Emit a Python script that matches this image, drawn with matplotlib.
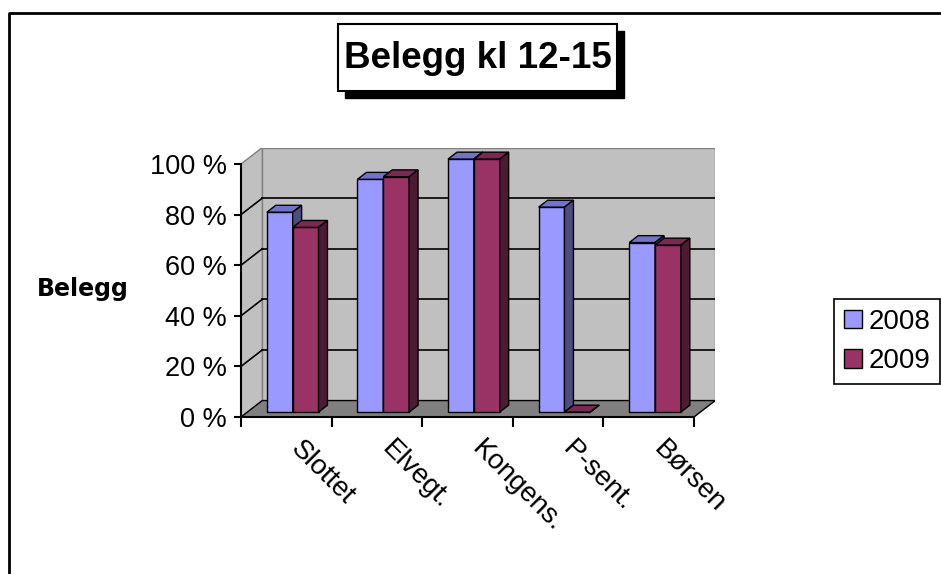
import matplotlib
matplotlib.use("Agg")
import matplotlib.pyplot as plt
from matplotlib.patches import Polygon, Rectangle, Patch
from matplotlib.lines import Line2D
import numpy as np

plt.rcParams['font.family'] = ['Liberation Sans', 'DejaVu Sans']

categories = ['Slottet', 'Elvegt.', 'Kongens.', 'P-sent.', 'Børsen']
years = ['2008', '2009']
belegg_2008 = [79, 92, 100, 81, 67]
belegg_2009 = [73, 93, 100, 0, 66]
y_ticks = [0, 20, 40, 60, 80, 100]

W, H = 941, 574
fig = plt.figure(figsize=(W / 100, H / 100), dpi=100)


def px(x, y):
    # pixel position (from top-left) -> figure fraction
    return x / W, 1 - y / H


# depth of the 3d box in data units and where the bars sit inside it
ddx, ddy = 0.235, 6.5
f0, f1 = 0.30, 0.72
xs_unit, ys_unit = 90.6, 2.53   # px per category / px per percent
x0, y0 = px(241, 417)
ax = fig.add_axes([x0, y0, (5 + ddx) * xs_unit / W, (100 + ddy) * ys_unit / H])
ax.set_xlim(0, 5 + ddx)
ax.set_ylim(0, 100 + ddy)
ax.patch.set_visible(False)

ncat = len(categories)

# walls and floor
wall_c, floor_c, edge_c = '#c0c0c0', '#808080', '#808080'
ax.add_patch(Rectangle((ddx, ddy), ncat, 100, fc=wall_c, ec=edge_c, lw=1, zorder=0.5))
ax.add_patch(Polygon([(0, 0), (ddx, ddy), (ddx, 100 + ddy), (0, 100)],
                     closed=True, fc=wall_c, ec=edge_c, lw=1, zorder=0.5))
ax.add_patch(Polygon([(0, 0), (ncat, 0), (ncat + ddx, ddy), (ddx, ddy)],
                     closed=True, fc=floor_c, ec='black', lw=1, zorder=0.6))

for v in y_ticks[1:-1]:
    ax.add_line(Line2D([ddx, ncat + ddx], [v + ddy, v + ddy], color='black', lw=1.2, zorder=1))
    ax.add_line(Line2D([0, ddx], [v, v + ddy], color='black', lw=1.2, zorder=1))


def bar3d(xl, xr, h, front, top, side, z):
    ox0, oy0 = f0 * ddx, f0 * ddy
    ox1, oy1 = f1 * ddx, f1 * ddy
    kw = dict(closed=True, ec='black', lw=1, joinstyle='miter', zorder=z)
    ax.add_patch(Polygon([(xl + ox0, oy0), (xr + ox0, oy0), (xr + ox0, h + oy0), (xl + ox0, h + oy0)],
                         fc=front, **kw))
    ax.add_patch(Polygon([(xl + ox0, h + oy0), (xr + ox0, h + oy0), (xr + ox1, h + oy1), (xl + ox1, h + oy1)],
                         fc=top, **kw))
    ax.add_patch(Polygon([(xr + ox0, oy0), (xr + ox1, oy1), (xr + ox1, h + oy1), (xr + ox0, h + oy0)],
                         fc=side, **kw))


colors_08 = ('#9999ff', '#7373cc', '#4d4d80')
colors_09 = ('#993366', '#7a2952', '#4d1a33')
bw = 0.285
z = 2
for i in range(ncat):
    bar3d(i + 0.215, i + 0.215 + bw, belegg_2008[i], *colors_08, z)
    bar3d(i + 0.215 + bw, i + 0.215 + 2 * bw, belegg_2009[i], *colors_09, z + 1)
    z += 2

# front axes
for s in ['top', 'right']:
    ax.spines[s].set_visible(False)
ax.spines['left'].set_bounds(0, 100)
ax.spines['bottom'].set_bounds(0, ncat)
for s in ['left', 'bottom']:
    ax.spines[s].set_linewidth(1.5)
    ax.spines[s].set_zorder(20)
ax.set_yticks(y_ticks)
ax.set_yticklabels([f'{v} %' for v in y_ticks])
ax.set_xticks(np.arange(ncat + 1))
ax.set_xticklabels([])
ax.tick_params(axis='y', direction='out', length=5, width=1.5, pad=5, labelsize=19.5)
ax.tick_params(axis='x', direction='out', length=7, width=1.5)

for i, name in enumerate(categories):
    ax.annotate(name, xy=(i + 0.5, 0), xytext=(18, -19), textcoords='offset pixels',
                rotation=-45, rotation_mode='anchor', ha='left', va='top', fontsize=20)

fig.text(*px(83, 289), 'Belegg', fontsize=17, fontweight='bold', ha='center', va='center',
         family='DejaVu Sans')

# title box with drop shadow
bx0, bx1, by0, by1 = 338, 617, 24, 91
sh = 7
fig.patches.append(Rectangle(px(bx0 + sh, by1 + sh), (bx1 - bx0) / W, (by1 - by0) / H,
                             transform=fig.transFigure, fc='black', ec='black', zorder=1))
fig.patches.append(Rectangle(px(bx0, by1), (bx1 - bx0) / W, (by1 - by0) / H,
                             transform=fig.transFigure, fc='white', ec='black', lw=1.5, zorder=2))
fig.text(*px((bx0 + bx1) / 2, (by0 + by1) / 2 + 1), 'Belegg kl 12-15', fontsize=26.5,
         fontweight='bold', ha='center', va='center', zorder=3)

# chart area frame (runs off the right and bottom edges)
fig.lines.append(Line2D([9 / W, 9 / W, 1.01], [-0.01, 1 - 13 / H, 1 - 13 / H],
                        transform=fig.transFigure, color='black', lw=2))

handles = [Patch(fc=colors_08[0], ec='black', lw=1), Patch(fc=colors_09[0], ec='black', lw=1)]
fig.legend(handles, years, loc='center', bbox_to_anchor=px(887, 341.5), fontsize=20,
           frameon=True, fancybox=False, edgecolor='black', framealpha=1,
           handlelength=0.65, handleheight=0.65, handletextpad=0.25, labelspacing=0.5,
           borderpad=0.35, borderaxespad=0)
fig.legends[0].get_frame().set_linewidth(1.2)

fig.savefig('out.png', dpi=100)
